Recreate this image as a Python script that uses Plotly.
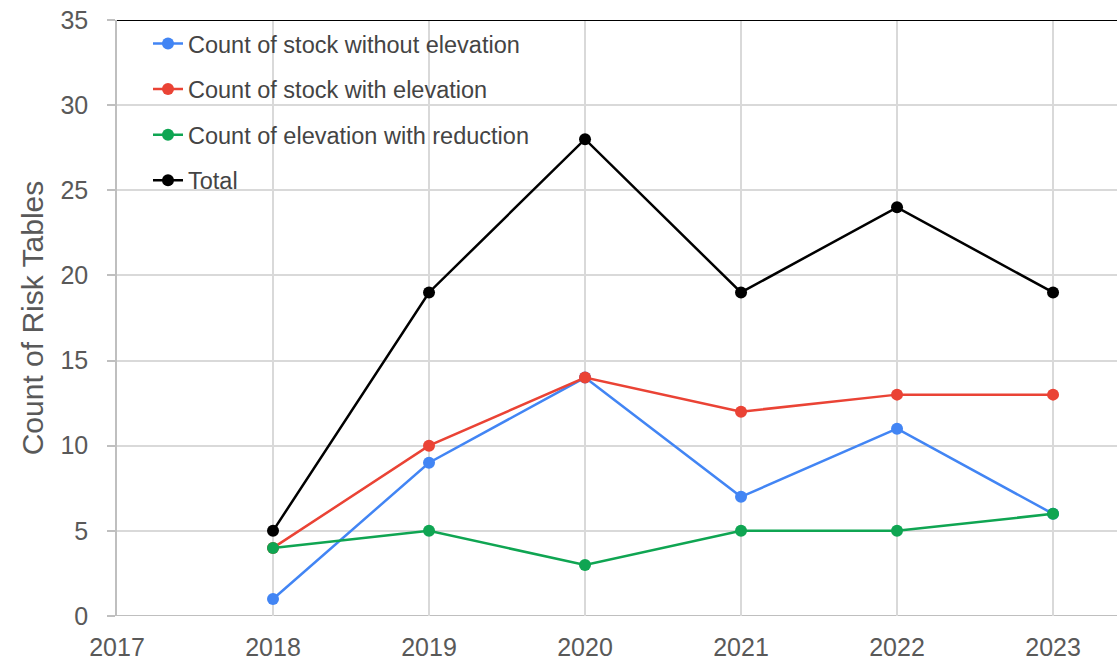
import plotly.graph_objects as go

years = [2018, 2019, 2020, 2021, 2022, 2023]
without_elev = [1, 9, 14, 7, 11, 6]
with_elev = [4, 10, 14, 12, 13, 13]
elev_reduction = [4, 5, 3, 5, 5, 6]
total = [5, 19, 28, 19, 24, 19]

series = [
    ("Count of stock without elevation", without_elev, "#4285F4"),
    ("Count of stock with elevation", with_elev, "#EA4335"),
    ("Count of elevation with reduction", elev_reduction, "#0FA552"),
    ("Total", total, "#000000"),
]

fig = go.Figure()
for i, (name, vals, color) in enumerate(series):
    fig.add_trace(go.Scatter(
        x=years, y=vals, name=name, mode="lines+markers",
        line=dict(color=color, width=2.5),
        marker=dict(color=color, size=12),
        legendgroup=f"g{i}",
    ))

grid = "#d9d9d9"
tickc = "#595959"
fig.update_layout(
    width=1117, height=660,
    margin=dict(l=117, r=0, t=20, b=44),
    plot_bgcolor="white", paper_bgcolor="white",
    font=dict(family="Liberation Sans, Arial, sans-serif", color=tickc),
    showlegend=True,
    legend=dict(
        x=0.031, y=0.997, xanchor="left", yanchor="top",
        bgcolor="rgba(0,0,0,0)",
        font=dict(size=23.5, color="#444444"),
        traceorder="grouped", tracegroupgap=12,
    ),
    xaxis=dict(
        range=[2017, 2023.41], dtick=1, tick0=2017,
        showgrid=True, gridcolor=grid, gridwidth=1.5,
        zeroline=False, showline=False,
        ticks="", tickfont=dict(size=25, color=tickc),
        ticklabelstandoff=14,
    ),
    yaxis=dict(
        range=[0, 35], dtick=5,
        showgrid=True, gridcolor=grid, gridwidth=1.5,
        zeroline=False, showline=True, linecolor="#bfbfbf", linewidth=1.5,
        ticks="outside", ticklen=8, tickcolor="#bfbfbf", tickwidth=1.5,
        tickfont=dict(size=25, color=tickc),
        ticklabelstandoff=14,
        title=dict(text="Count of Risk Tables", font=dict(size=30, color=tickc), standoff=8),
    ),
    shapes=[
        dict(type="line", xref="paper", yref="y", x0=0, x1=1, y0=35, y1=35,
             line=dict(color="black", width=2), layer="above"),
        dict(type="line", xref="paper", yref="y", x0=0, x1=1, y0=0, y1=0,
             line=dict(color="#bfbfbf", width=2), layer="below"),
    ],
)

fig.write_html("out.html")
